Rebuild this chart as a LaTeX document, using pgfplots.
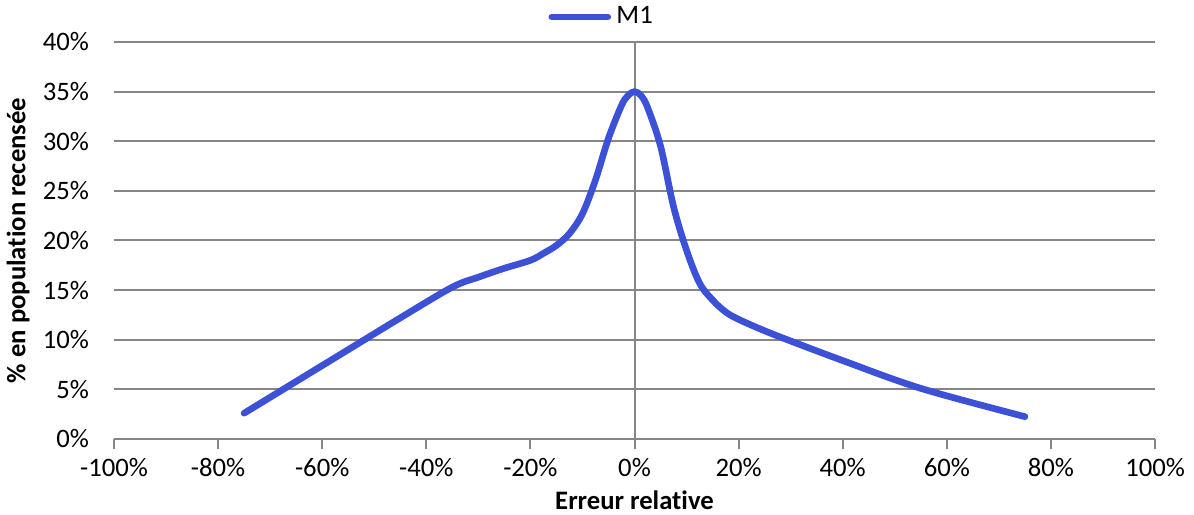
\documentclass[border=0pt]{standalone}
\usepackage{fontspec}
\setmainfont{Carlito}[Ligatures=NoCommon]
\usepackage{pgfplots}
\pgfplotsset{compat=1.18}
\definecolor{curve}{RGB}{61,81,214}
\definecolor{gridc}{RGB}{134,134,134}
\begin{document}
\begin{tikzpicture}
\path[use as bounding box] (-42.75pt,-28.5pt) rectangle ++(447.75pt,193.125pt);
\begin{axis}[
  scale only axis, width=390.4pt, height=148.9pt,
  xmin=-100, xmax=100, ymin=0, ymax=40,
  xtick={-100,-80,-60,-40,-20,0,20,40,60,80,100},
  xticklabels={-100\%,-80\%,-60\%,-40\%,-20\%,0\%,20\%,40\%,60\%,80\%,100\%},
  ytick={0,5,10,15,20,25,30,35,40},
  yticklabels={0\%,5\%,10\%,15\%,20\%,25\%,30\%,35\%,40\%},
  axis lines*=left,
  axis line style={gridc, line width=0.75pt},
  y axis line style={draw=none},
  ymajorgrids, grid style={gridc, line width=0.75pt},
  major tick length=3.75pt,
  xtick style={gridc, line width=0.75pt, yshift=-3.75pt},
  ytick style={draw=none},
  tick label style={font=\fontsize{10}{12}\selectfont, black},
  xticklabel style={anchor=north, inner sep=0pt, yshift=-6.9pt},
  yticklabel style={anchor=east, inner sep=0pt, xshift=-9.2pt},
  xlabel={\textbf{Erreur relative}},
  ylabel={\textbf{\% en population recensée}},
  label style={font=\fontsize{10}{12}\selectfont},
  xlabel style={at={(axis description cs:0.5,-0.1537)}, anchor=center},
  ylabel style={at={(axis description cs:-0.0922,0.5)}, anchor=center},
  legend style={at={(0.47,1.063)}, anchor=center, draw=none, fill=none,
    font=\fontsize{10}{12}\selectfont, inner sep=0pt},
  legend image code/.code={\draw[#1, line cap=round] (0pt,0pt) -- (21pt,0pt);},
]
\draw[gridc, line width=0.75pt] (axis cs:0,0) -- (axis cs:0,40);
\addplot[curve, line width=2.5pt, line cap=round, line join=round, smooth, tension=0.55] coordinates {
(-75,2.6) (-65,5.8) (-55,9.0) (-45,12.2) (-35,15.3) (-30,16.3) (-25,17.2)
(-20,18.0) (-17.5,18.7) (-15,19.5) (-12.5,20.7) (-10,22.7) (-7.5,26.1)
(-5,30.3) (-2.5,33.6) (-1.25,34.6) (0,35.0) (1.25,34.6) (2.5,33.4) (5,29.5) (7.5,23.4) (10,19.0)
(12.5,15.7) (15,14.0) (17.5,12.8) (20,12.05) (25,10.9) (30,9.87)
(40,7.9) (55,5.1) (75,2.25)
};
\addlegendentry{M1}
\end{axis}
\end{tikzpicture}
\end{document}
